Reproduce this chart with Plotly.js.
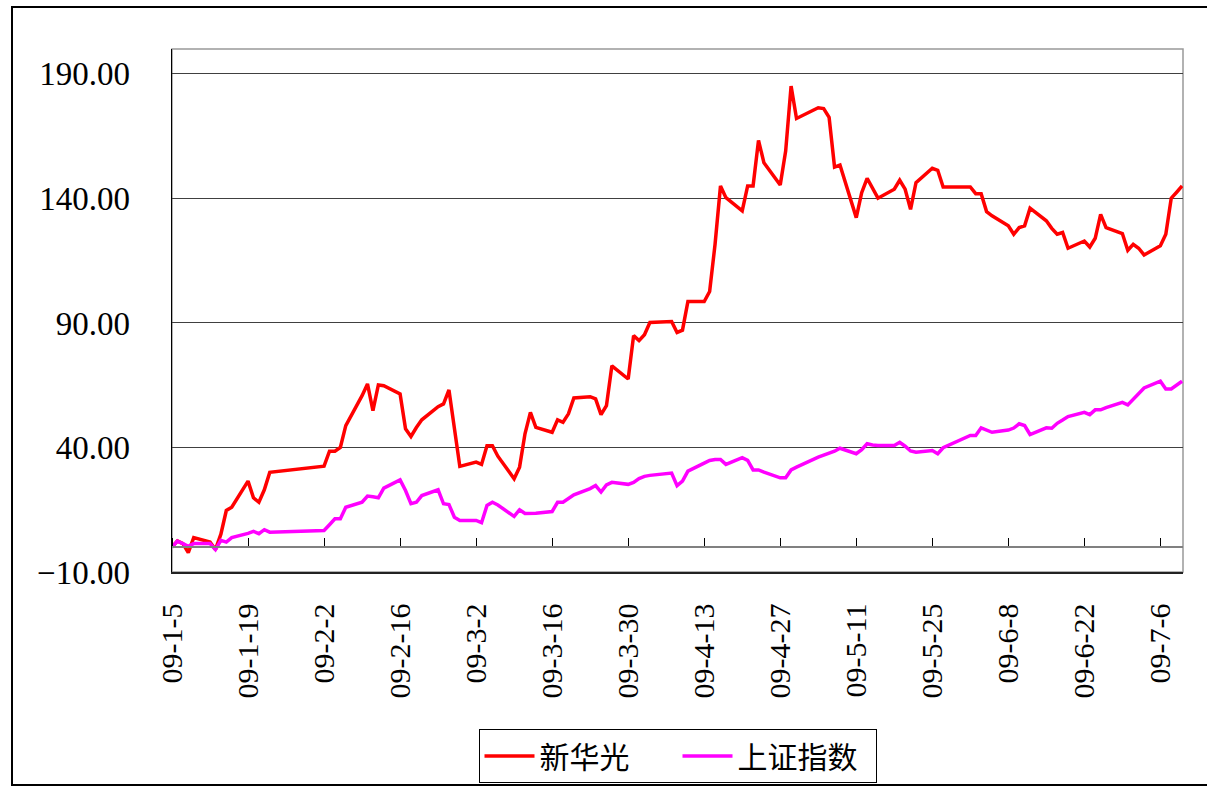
<!DOCTYPE html>
<html>
<head>
<meta charset="utf-8">
<script src="https://cdn.plot.ly/plotly-3.0.1.min.js"></script>
<style>
  html, body { margin: 0; padding: 0; background: #fff; }
  #wrap { position: relative; width: 1207px; height: 786px; overflow: hidden; }
  #chart { position: absolute; left: 0; top: 0; width: 1207px; height: 786px; }
  #frame { position: absolute; left: 11px; top: 6px; width: 1210px; height: 776px; border: 2px solid #000; pointer-events: none; }
</style>
</head>
<body>
<div id="wrap"><div id="chart"></div><div id="frame"></div></div>
<script>
// Trading dates
const dates = [
  '2009-01-05','2009-01-06','2009-01-07','2009-01-08','2009-01-09',
  '2009-01-12','2009-01-13','2009-01-14','2009-01-15','2009-01-16',
  '2009-01-19','2009-01-20','2009-01-21','2009-01-22','2009-01-23',
  '2009-02-02','2009-02-03','2009-02-04','2009-02-05','2009-02-06',
  '2009-02-09','2009-02-10','2009-02-11','2009-02-12','2009-02-13',
  '2009-02-16','2009-02-17','2009-02-18','2009-02-19','2009-02-20',
  '2009-02-23','2009-02-24','2009-02-25','2009-02-26','2009-02-27',
  '2009-03-02','2009-03-03','2009-03-04','2009-03-05','2009-03-06',
  '2009-03-09','2009-03-10','2009-03-11','2009-03-12','2009-03-13',
  '2009-03-16','2009-03-17','2009-03-18','2009-03-19','2009-03-20',
  '2009-03-23','2009-03-24','2009-03-25','2009-03-26','2009-03-27',
  '2009-03-30','2009-03-31','2009-04-01','2009-04-02','2009-04-03',
  '2009-04-07','2009-04-08','2009-04-09','2009-04-10',
  '2009-04-13','2009-04-14','2009-04-15','2009-04-16','2009-04-17',
  '2009-04-20','2009-04-21','2009-04-22','2009-04-23','2009-04-24',
  '2009-04-27','2009-04-28','2009-04-29','2009-04-30',
  '2009-05-04','2009-05-05','2009-05-06','2009-05-07','2009-05-08',
  '2009-05-11','2009-05-12','2009-05-13','2009-05-14','2009-05-15',
  '2009-05-18','2009-05-19','2009-05-20','2009-05-21','2009-05-22',
  '2009-05-25','2009-05-26','2009-05-27',
  '2009-06-01','2009-06-02','2009-06-03','2009-06-04','2009-06-05',
  '2009-06-08','2009-06-09','2009-06-10','2009-06-11','2009-06-12',
  '2009-06-15','2009-06-16','2009-06-17','2009-06-18','2009-06-19',
  '2009-06-22','2009-06-23','2009-06-24','2009-06-25','2009-06-26',
  '2009-06-29','2009-06-30','2009-07-01','2009-07-02','2009-07-03',
  '2009-07-06','2009-07-07','2009-07-08','2009-07-09','2009-07-10'
];

// 新华光 cumulative change (%)
const xinhuaguang = [
  0, 2.5, 1.4, -2.2, 3.8,
  2.0, -1.0, 5.2, 14.7, 16.0,
  26.5, 19.8, 18.0, 23.0, 30.0,
  32.5, 38.5, 38.5, 40.0, 48.8,
  60.8, 65.5, 54.8, 65.1, 64.8,
  61.5, 47.5, 44.4, 48.0, 51.1,
  56.4, 57.5, 63.1, 48.0, 32.4,
  34.1, 33.2, 40.7, 40.7, 36.5,
  27.4, 32.1, 45.5, 54.1, 48.1,
  46.1, 51.1, 50.1, 53.5, 59.9,
  60.4, 59.5, 53.2, 56.8, 72.8,
  67.5, 84.9, 82.9, 85.3, 90.2,
  90.6, 86.2, 87.1, 98.6,
  98.6, 102.6, 121.6, 145.0, 140.3,
  135.0, 145.0, 145.0, 163.3, 154.3,
  145.4, 159.0, 185.1, 172.1,
  176.4, 176.1, 172.6, 152.6, 153.4,
  132.3, 142.3, 148.1, 144.0, 140.1,
  143.7, 147.3, 143.7, 135.6, 146.3,
  152.1, 151.3, 144.6,
  144.6, 141.9, 141.9, 134.7, 133.0,
  129.0, 125.6, 128.3, 129.0, 136.1,
  131.0, 128.0, 125.6, 126.3, 120.0,
  122.9, 120.5, 124.0, 133.6, 128.3,
  125.9, 119.2, 121.6, 120.0, 117.3,
  121.0, 125.6, 140.1, 142.5, 145.0
];

// 上证指数 cumulative change (%)
const shIndex = [
  0, 2.4, 1.4, 0.3, 1.4,
  1.4, -1.0, 2.7, 2.0, 3.8,
  5.5, 6.3, 5.4, 7.0, 6.0,
  6.7, 9.0, 11.4, 11.4, 16.0,
  18.0, 20.5, 20.2, 19.8, 23.7,
  27.0, 22.7, 17.4, 18.0, 20.7,
  23.0, 17.4, 17.1, 12.0, 10.7,
  10.7, 9.8, 16.7, 18.0, 16.9,
  12.3, 15.0, 13.5, 13.4, 13.6,
  14.3, 18.0, 18.0, 19.5, 21.0,
  23.5, 24.7, 22.1, 25.0, 26.0,
  25.2, 26.0, 27.5, 28.4, 28.8,
  29.7, 24.7, 26.5, 30.5,
  33.7, 34.8, 35.2, 35.2, 33.2,
  35.9, 34.8, 31.0, 31.0, 30.1,
  27.8, 27.8, 31.0, 32.1,
  36.1, 36.8, 37.7, 38.5, 39.7,
  37.5, 39.1, 41.5, 41.0, 40.8,
  40.8, 42.1, 40.5, 38.6, 38.1,
  38.8, 37.5, 39.9,
  44.8, 44.8, 47.9, 47.0, 46.1,
  47.0, 47.8, 49.5, 48.8, 45.2,
  47.9, 47.7, 49.7, 51.0, 52.4,
  54.1, 53.2, 55.1, 55.1, 56.0,
  58.1, 57.1, 59.3, 61.7, 63.9,
  66.6, 63.5, 63.5, 65.0, 66.6
];

// x tick positions and labels
const tickDates = ['2009-01-05','2009-01-19','2009-02-02','2009-02-16','2009-03-02','2009-03-16','2009-03-30',
                   '2009-04-13','2009-04-27','2009-05-11','2009-05-25','2009-06-08','2009-06-22','2009-07-06'];
const tickLabels = ['09-1-5','09-1-19','09-2-2','09-2-16','09-3-2','09-3-16','09-3-30',
                    '09-4-13','09-4-27','09-5-11','09-5-25','09-6-8','09-6-22','09-7-6'];

const seriesNames = ['新华光', '上证指数'];

const xRange = ['2009-01-05', '2009-07-10 04:00'];
const yMin = -10, yMax = 200;

const traces = [
  { x: dates, y: xinhuaguang, name: seriesNames[0], type: 'scatter', mode: 'lines',
    line: { color: '#FF0000', width: 3.5 }, xaxis: 'x', yaxis: 'y' },
  { x: dates, y: shIndex, name: seriesNames[1], type: 'scatter', mode: 'lines',
    line: { color: '#FF00FF', width: 3.5 }, xaxis: 'x', yaxis: 'y' },
  { x: [], y: [], xaxis: 'x2', yaxis: 'y', showlegend: false, hoverinfo: 'skip', type: 'scatter' }
];

const layout = {
  width: 1207, height: 786,
  margin: { l: 172, r: 24, t: 49, b: 214, autoexpand: false },
  paper_bgcolor: 'rgba(0,0,0,0)', plot_bgcolor: '#fff',
  showlegend: true,
  xaxis: {
    type: 'date', range: xRange,
    tickmode: 'array', tickvals: tickDates, ticktext: tickLabels,
    tickangle: -90, ticks: '', showgrid: false, zeroline: false,
    showline: true, linecolor: '#222', linewidth: 1.5,
    tickfont: { family: 'Liberation Serif, serif', size: 30, color: '#000' },
    ticklabelstandoff: 18, automargin: false
  },
  xaxis2: {
    type: 'date', range: xRange, overlaying: 'x', anchor: 'free',
    position: (0 - yMin) / (yMax - yMin), side: 'top',
    tickmode: 'array', tickvals: tickDates, ticks: 'outside', ticklen: 8,
    tickcolor: '#000', tickwidth: 1, showticklabels: false, showgrid: false,
    zeroline: false, showline: true, linecolor: '#808080', linewidth: 2
  },
  yaxis: {
    range: [yMin, yMax], tickmode: 'linear', tick0: -10, dtick: 50, tickformat: '.2f',
    showgrid: true, gridcolor: '#404040', gridwidth: 1, zeroline: false,
    showline: true, linecolor: '#000', linewidth: 1.5, ticks: '',
    tickfont: { family: 'Liberation Serif, serif', size: 33, color: '#000' },
    ticklabelstandoff: 34, automargin: false
  },
  shapes: [
    { type: 'rect', xref: 'paper', yref: 'paper', x0: 0, x1: 1, y0: 0, y1: 1,
      line: { color: '#999', width: 1.5 }, layer: 'below' }
  ],
  legend: {
    orientation: 'h', x: 0.5, xanchor: 'center', y: -0.30, yanchor: 'top',
    bordercolor: '#000', borderwidth: 1, bgcolor: '#fff',
    itemwidth: 50, entrywidth: 133, entrywidthmode: 'pixels',
    font: { family: 'Noto Sans CJK SC, sans-serif', size: 30, color: '#000' }
  }
};

Plotly.newPlot('chart', traces, layout, { displayModeBar: false, staticPlot: true });
</script>
</body>
</html>
